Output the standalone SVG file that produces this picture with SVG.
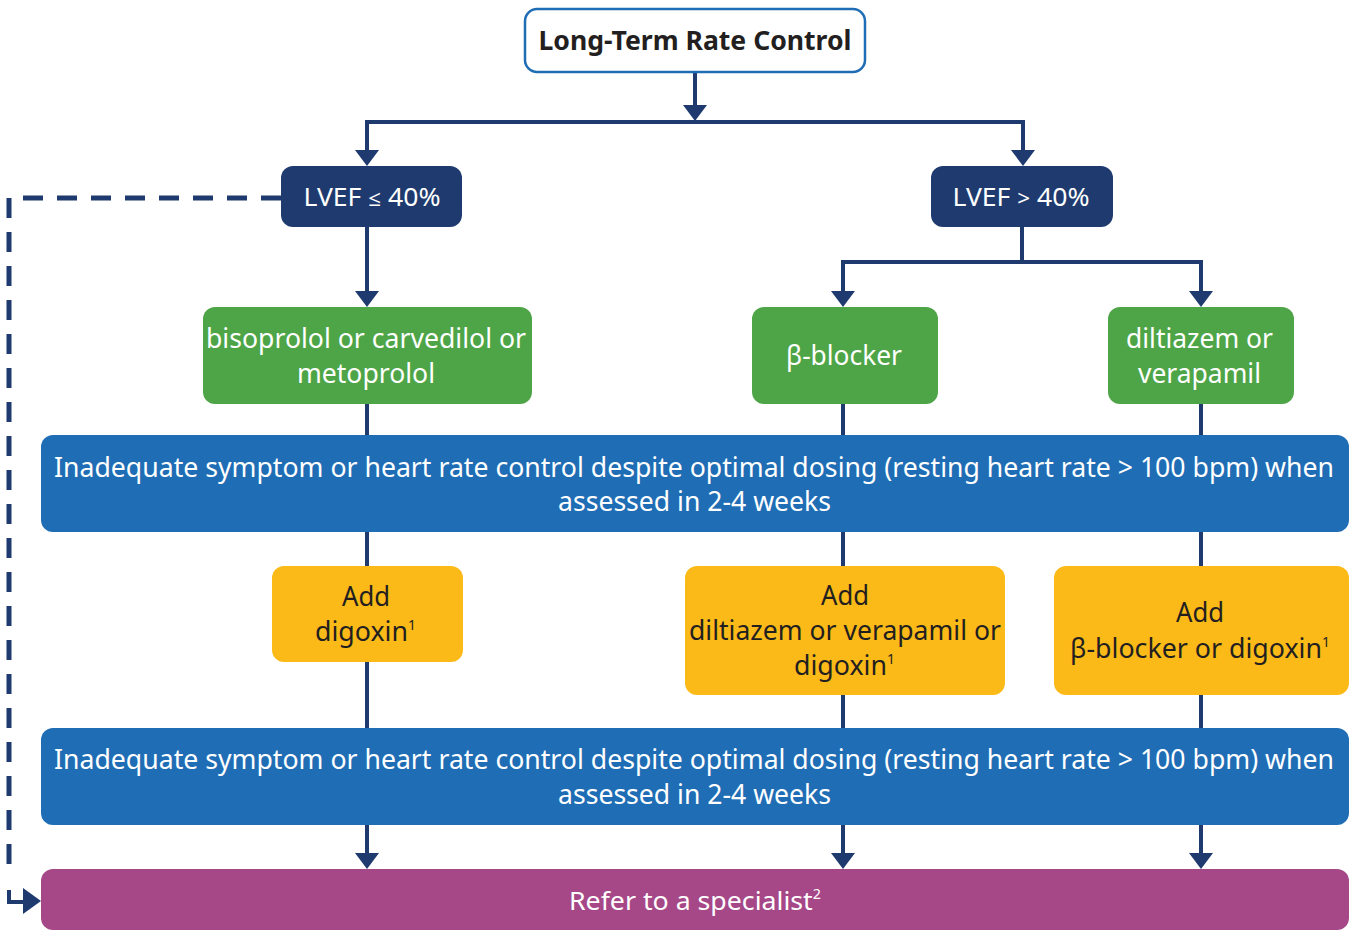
<svg xmlns="http://www.w3.org/2000/svg" width="1349" height="931" viewBox="0 0 1349 931">
<style>
text{font-family:"Noto Sans","Open Sans","Liberation Sans",sans-serif;text-anchor:middle}
.w{fill:#ffffff}
.d{fill:#231f20}
.t26{font-size:26px}
.t27{font-size:27px}
.conn{fill:none;stroke:#1e3a6e;stroke-width:4}
.dash{fill:none;stroke:#1e3a6e;stroke-width:5;stroke-dasharray:20 14}
.navy{fill:#1e3a6e}
.green{fill:#4ea547}
.blue{fill:#1f6db5}
.yellow{fill:#fbba18}
.purple{fill:#a64787}
</style>
<defs>
<marker id="ah" markerUnits="userSpaceOnUse" markerWidth="16" markerHeight="24" refX="8" refY="12" orient="auto" viewBox="0 0 16 24">
<path d="M0,0 L16,12 L0,24 z" fill="#1e3a6e"/>
</marker>
</defs>

<g id="connectors">
<path class="conn" d="M695,73 V113" marker-end="url(#ah)"/>
<path class="conn" d="M367,158 V122 H1023 V158" marker-end="url(#ah)"/>
<path class="conn" d="M367,122 V158" marker-end="url(#ah)"/>
<path class="conn" d="M367,227 V299" marker-end="url(#ah)"/>
<path class="conn" d="M1022,227 V262 H843 V299" marker-end="url(#ah)"/>
<path class="conn" d="M1022,262 H1201 V299" marker-end="url(#ah)"/>
<path class="conn" d="M367,404 V435 M843,404 V435 M1201,404 V435"/>
<path class="conn" d="M367,532 V566 M843,532 V566 M1201,532 V566"/>
<path class="conn" d="M367,662 V728 M843,695 V728 M1201,695 V728"/>
<path class="conn" d="M367,825 V861" marker-end="url(#ah)"/>
<path class="conn" d="M843,825 V861" marker-end="url(#ah)"/>
<path class="conn" d="M1201,825 V861" marker-end="url(#ah)"/>
<path class="dash" d="M281,198 H9 V872"/>
<path class="conn" d="M9,890 V902 H24" stroke-width="5"/>
<path d="M23,888 L41,901 L23,914 z" class="navy"/>
</g>

<g id="start">
<rect x="525" y="9" width="340" height="63" rx="12" fill="#ffffff" stroke="#1f6db5" stroke-width="2.5"/>
<text x="695" y="50" class="d t26" font-weight="bold" textLength="313" lengthAdjust="spacingAndGlyphs">Long-Term Rate Control</text>
</g>

<g id="lvef-low">
<rect x="281" y="166" width="181" height="61" rx="12" class="navy"/>
<text x="372" y="206" class="w t26" textLength="137" lengthAdjust="spacingAndGlyphs">LVEF <tspan font-size="22">≤</tspan> 40%</text>
</g>

<g id="lvef-high">
<rect x="931" y="166" width="182" height="61" rx="12" class="navy"/>
<text x="1021" y="206" class="w t26" textLength="137" lengthAdjust="spacingAndGlyphs">LVEF <tspan font-size="22">&gt;</tspan> 40%</text>
</g>

<g id="bisoprolol">
<rect x="203" y="307" width="329" height="97" rx="12" class="green"/>
<text x="366" y="348" class="w t27" textLength="320" lengthAdjust="spacingAndGlyphs">bisoprolol or carvedilol or</text>
<text x="366" y="383" class="w t27" textLength="138" lengthAdjust="spacingAndGlyphs">metoprolol</text>
</g>

<g id="beta-blocker">
<rect x="752" y="307" width="186" height="97" rx="12" class="green"/>
<text x="844" y="365" class="w t27" textLength="116" lengthAdjust="spacingAndGlyphs">β-blocker</text>
</g>

<g id="diltiazem">
<rect x="1108" y="307" width="186" height="97" rx="12" class="green"/>
<text x="1199.5" y="348" class="w t27" textLength="147" lengthAdjust="spacingAndGlyphs">diltiazem or</text>
<text x="1199.5" y="383" class="w t27" textLength="123" lengthAdjust="spacingAndGlyphs">verapamil</text>
</g>

<g id="assess1">
<rect x="41" y="435" width="1308" height="97" rx="12" class="blue"/>
<text x="694" y="477" class="w t27" textLength="1280" lengthAdjust="spacingAndGlyphs">Inadequate symptom or heart rate control despite optimal dosing (resting heart rate &gt; 100 bpm) when</text>
<text x="694.5" y="511" class="w t27" textLength="273" lengthAdjust="spacingAndGlyphs">assessed in 2-4 weeks</text>
</g>

<g id="add-digoxin">
<rect x="272" y="566" width="191" height="96" rx="12" class="yellow"/>
<text x="366" y="606" class="d t27" textLength="48" lengthAdjust="spacingAndGlyphs">Add</text>
<text x="365.5" y="641" class="d t27" textLength="101" lengthAdjust="spacingAndGlyphs">digoxin<tspan font-size="14" dy="-11">1</tspan></text>
</g>

<g id="add-diltiazem">
<rect x="685" y="566" width="320" height="129" rx="12" class="yellow"/>
<text x="845" y="605" class="d t27" textLength="48" lengthAdjust="spacingAndGlyphs">Add</text>
<text x="845" y="640" class="d t27" textLength="312" lengthAdjust="spacingAndGlyphs">diltiazem or verapamil or</text>
<text x="844.5" y="675" class="d t27" textLength="101" lengthAdjust="spacingAndGlyphs">digoxin<tspan font-size="14" dy="-11">1</tspan></text>
</g>

<g id="add-beta">
<rect x="1054" y="566" width="295" height="129" rx="12" class="yellow"/>
<text x="1200" y="622" class="d t27" textLength="48" lengthAdjust="spacingAndGlyphs">Add</text>
<text x="1200" y="658" class="d t27" textLength="260" lengthAdjust="spacingAndGlyphs">β-blocker or digoxin<tspan font-size="14" dy="-11">1</tspan></text>
</g>

<g id="assess2">
<rect x="41" y="728" width="1308" height="97" rx="12" class="blue"/>
<text x="694" y="769" class="w t27" textLength="1280" lengthAdjust="spacingAndGlyphs">Inadequate symptom or heart rate control despite optimal dosing (resting heart rate &gt; 100 bpm) when</text>
<text x="694.5" y="804" class="w t27" textLength="273" lengthAdjust="spacingAndGlyphs">assessed in 2-4 weeks</text>
</g>

<g id="specialist">
<rect x="41" y="869" width="1308" height="61" rx="12" class="purple"/>
<text x="695" y="910" class="w t26" textLength="252" lengthAdjust="spacingAndGlyphs">Refer to a specialist<tspan font-size="14" dy="-11">2</tspan></text>
</g>
</svg>
